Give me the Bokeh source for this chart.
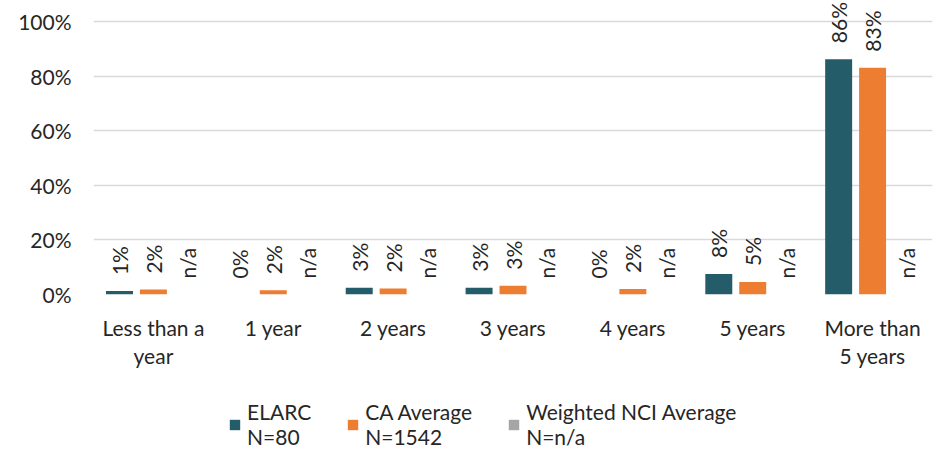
import math
from bokeh.plotting import figure
from bokeh.layouts import column
from bokeh.models import (ColumnDataSource, FactorRange, Range1d, FixedTicker, Legend,
                          LegendItem, PrintfTickFormatter)
from bokeh.transform import dodge
from bokeh.core.properties import value
from bokeh.embed import file_html
from bokeh.resources import INLINE

# ---- data ----
categories = ["Less than a\nyear", "1 year", "2 years", "3 years", "4 years", "5 years", "More than\n5 years"]
elarc = [1.25, 0.0, 2.5, 2.5, 0.0, 7.5, 86.25]
ca_average = [1.8, 1.6, 2.2, 3.2, 2.0, 4.6, 83.1]
weighted_nci = [None, None, None, None, None, None, None]  # n/a
series_names = ["ELARC\nN=80", "CA Average\nN=1542", "Weighted NCI Average\nN=n/a"]
y_ticks = [0, 20, 40, 60, 80, 100]

colors = ["#245C6A", "#ED7D31", "#A5A5A5"]
offsets = [-0.283, 0.0, 0.283]
FONT = "Lato"
FS = "21px"
TXT = "#262626"


def fmt(v):
    return "n/a" if v is None else "%d%%" % math.floor(v + 0.5)


p = figure(width=933, height=380, output_backend="svg", toolbar_location=None,
           x_range=FactorRange(factors=categories, range_padding=0),
           y_range=Range1d(0, 107),
           min_border_left=93, min_border_right=1, min_border_top=2, min_border_bottom=86)
p.outline_line_color = None

for vals, col, off in zip([elarc, ca_average, weighted_nci], colors, offsets):
    src = ColumnDataSource(dict(
        cat=categories,
        top=[float("nan") if v is None else v for v in vals],
        label_y=[0.0 if v is None else v for v in vals],
        label=[fmt(v) for v in vals],
    ))
    p.vbar(x=dodge("cat", off, range=p.x_range), top="top", bottom=0, width=0.225,
           source=src, fill_color=col, line_color=None)
    p.text(x=dodge("cat", off, range=p.x_range), y="label_y", text="label", source=src,
           angle=math.pi / 2, text_align="left", text_baseline="middle", y_offset=-16,
           text_font=value(FONT), text_font_size=FS, text_color=TXT)

# axes
p.yaxis.ticker = FixedTicker(ticks=y_ticks)
p.yaxis.formatter = PrintfTickFormatter(format="%d%%")
p.yaxis.axis_line_color = None
p.yaxis.major_tick_line_color = None
p.yaxis.minor_tick_line_color = None
p.yaxis.major_tick_out = 0
p.yaxis.major_tick_in = 0
p.yaxis.major_label_standoff = 22
p.yaxis.major_label_text_font = FONT
p.yaxis.major_label_text_font_size = FS
p.yaxis.major_label_text_color = TXT

p.xaxis.axis_line_color = None
p.xaxis.major_tick_line_color = None
p.xaxis.major_tick_out = 0
p.xaxis.major_tick_in = 0
p.xaxis.major_label_standoff = 20
p.xaxis.major_label_text_font = FONT
p.xaxis.major_label_text_font_size = FS
p.xaxis.major_label_text_line_height = 1.12
p.xaxis.major_label_text_color = TXT

p.xgrid.visible = False
p.ygrid.grid_line_color = "#D9D9D9"
p.ygrid.grid_line_width = 1.3

# legend panel
lg = figure(width=933, height=69, output_backend="svg", toolbar_location=None,
            x_axis_type=None, y_axis_type=None, x_range=Range1d(0, 1), y_range=Range1d(0, 1),
            min_border_left=0, min_border_right=0, min_border_top=0, min_border_bottom=0)
lg.outline_line_color = None
lg.grid.visible = False
items = []
for name, col in zip(series_names, colors):
    r = lg.vbar(x=[float("nan")], top=[float("nan")], width=0.1, fill_color=col, line_color=None)
    items.append(LegendItem(label=name, renderers=[r]))
legend = Legend(items=items, orientation="horizontal", location=(135, 0),
                border_line_color=None, background_fill_alpha=0,
                label_text_font=FONT, label_text_font_size=FS, label_text_color=TXT,
                glyph_width=13, glyph_height=13, label_standoff=6, spacing=35,
                padding=0, margin=0)
lg.add_layout(legend, "center")

layout = column(p, lg, spacing=0)
open("out.html", "w").write(file_html(layout, INLINE))
